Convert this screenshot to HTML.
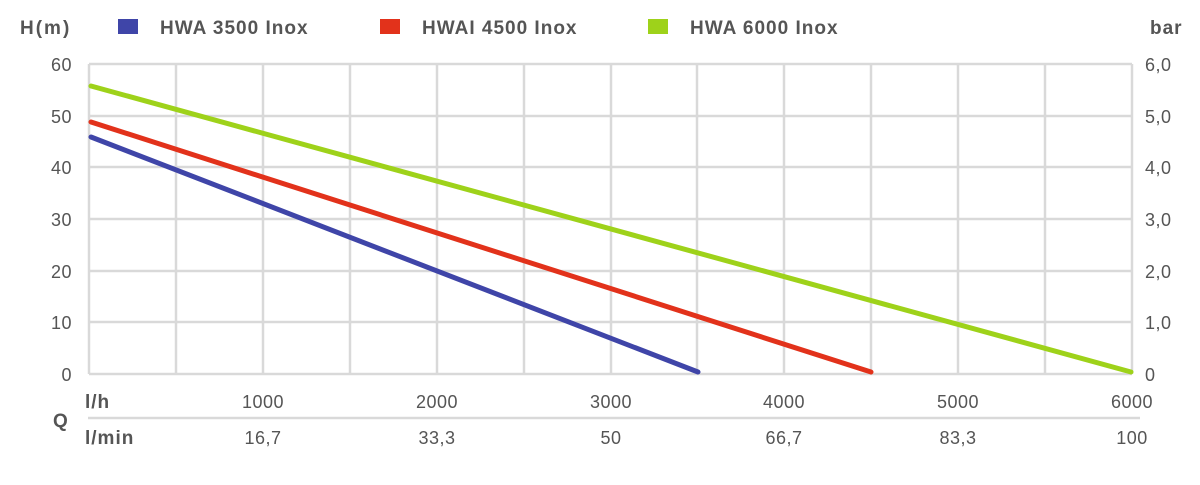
<!DOCTYPE html>
<html><head><meta charset="utf-8"><style>body{margin:0;background:#fff}svg{display:block}</style></head><body>
<svg width="1200" height="485" xmlns="http://www.w3.org/2000/svg" font-family="Liberation Sans, sans-serif" fill="#555">
<g stroke="#d9d9d9" stroke-width="2.5" fill="none">
<line x1="89" y1="64" x2="1132" y2="64"/><line x1="89" y1="116" x2="1132" y2="116"/><line x1="89" y1="167" x2="1132" y2="167"/><line x1="89" y1="219" x2="1132" y2="219"/><line x1="89" y1="271" x2="1132" y2="271"/><line x1="89" y1="322" x2="1132" y2="322"/><line x1="89" y1="374" x2="1132" y2="374"/>
<line x1="89" y1="64" x2="89" y2="374"/><line x1="176" y1="64" x2="176" y2="374"/><line x1="263" y1="64" x2="263" y2="374"/><line x1="350" y1="64" x2="350" y2="374"/><line x1="437" y1="64" x2="437" y2="374"/><line x1="524" y1="64" x2="524" y2="374"/><line x1="611" y1="64" x2="611" y2="374"/><line x1="697" y1="64" x2="697" y2="374"/><line x1="784" y1="64" x2="784" y2="374"/><line x1="871" y1="64" x2="871" y2="374"/><line x1="958" y1="64" x2="958" y2="374"/><line x1="1045" y1="64" x2="1045" y2="374"/><line x1="1132" y1="64" x2="1132" y2="374"/>
<line x1="88" y1="418" x2="1140" y2="418"/>
</g>
<g stroke-width="5" stroke-linecap="round" fill="none">
<line x1="91" y1="86" x2="1131" y2="372" stroke="#9ed21a"/>
<line x1="91" y1="122" x2="871" y2="372" stroke="#e2321b"/>
<line x1="91" y1="137" x2="698" y2="372" stroke="#3f45a8"/>
</g>
<g font-size="19" font-weight="bold" fill="#555" letter-spacing="1">
<text x="20" y="34" letter-spacing="2">H(m)</text>
<rect x="118" y="19" width="20" height="15" fill="#3f45a8"/><text x="160" y="34">HWA 3500 Inox</text>
<rect x="380" y="19" width="20" height="15" fill="#e2321b"/><text x="422" y="34">HWAI 4500 Inox</text>
<rect x="648" y="19" width="20" height="15" fill="#9ed21a"/><text x="690" y="34">HWA 6000 Inox</text>
<text x="1150" y="34">bar</text>
<text x="85" y="408">l/h</text><text x="53" y="427">Q</text><text x="85" y="444">l/min</text>
</g>
<g font-size="18" text-anchor="end" letter-spacing="0.5">
<text x="72" y="71">60</text><text x="72" y="123">50</text><text x="72" y="174">40</text><text x="72" y="226">30</text><text x="72" y="278">20</text><text x="72" y="329">10</text><text x="72" y="381">0</text>
</g>
<g font-size="18" letter-spacing="0.5">
<text x="1145" y="71">6,0</text><text x="1145" y="123">5,0</text><text x="1145" y="174">4,0</text><text x="1145" y="226">3,0</text><text x="1145" y="278">2,0</text><text x="1145" y="329">1,0</text><text x="1145" y="381">0</text>
</g>
<g font-size="18" text-anchor="middle" letter-spacing="0.5">
<text x="263" y="408">1000</text><text x="437" y="408">2000</text><text x="611" y="408">3000</text><text x="784" y="408">4000</text><text x="958" y="408">5000</text><text x="1132" y="408">6000</text>
<text x="263" y="444">16,7</text><text x="437" y="444">33,3</text><text x="611" y="444">50</text><text x="784" y="444">66,7</text><text x="958" y="444">83,3</text><text x="1132" y="444">100</text>
</g>
</svg>
</body></html>
